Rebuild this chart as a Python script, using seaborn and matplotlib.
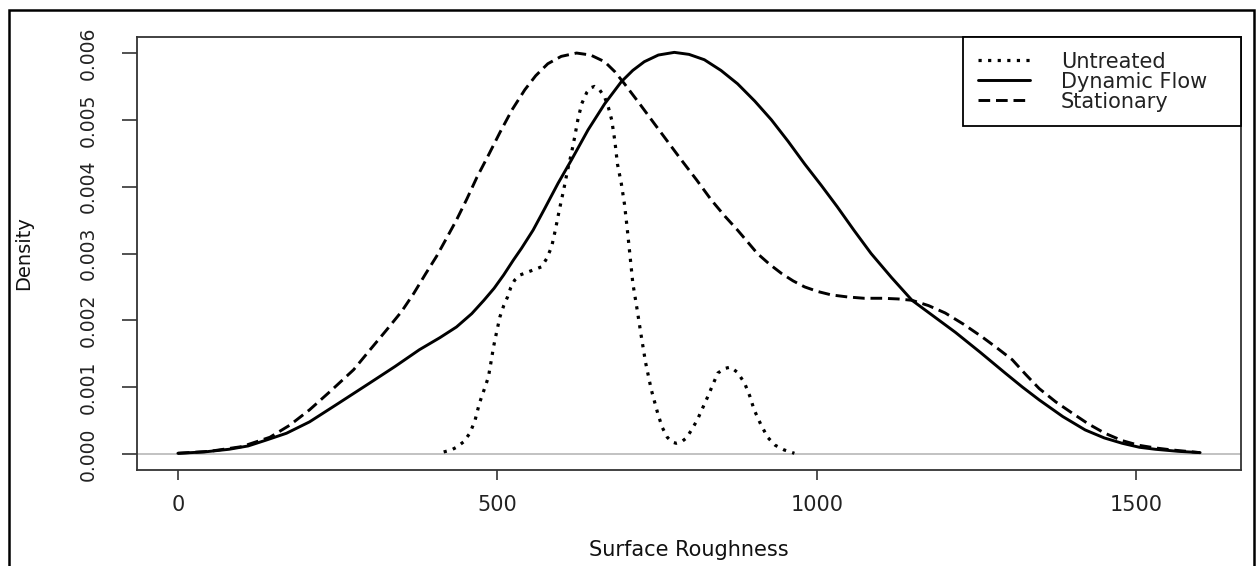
import matplotlib
matplotlib.use("Agg")
import matplotlib.pyplot as plt
import matplotlib.patches as mpatches
import seaborn as sns
import pandas as pd

# Kernel density estimates of surface roughness for the three treatments
untreated_x = [416, 428, 436, 447, 457, 465, 472, 480, 486, 490, 494, 499, 504, 510,
               516, 521, 527, 536, 547, 558, 569, 577, 585, 591, 597, 604, 610, 616,
               621, 626, 632, 640, 646, 652, 660, 668, 674, 679, 684, 688, 694, 699,
               703, 707, 712, 719, 725, 732, 741, 751, 758, 766, 773, 780, 788, 796,
               804, 813, 821, 829, 837, 845, 856, 865, 876, 887, 895, 902, 912, 923,
               935, 949, 965]
untreated_y = [0.00003, 0.00006, 0.0001, 0.00018, 0.00031, 0.0005, 0.00076, 0.00098,
               0.00115, 0.00137, 0.0016, 0.00183, 0.00205, 0.00222, 0.00235, 0.00249,
               0.0026, 0.00268, 0.00272, 0.00276, 0.0028, 0.00292, 0.0031, 0.00336,
               0.00365, 0.00396, 0.00425, 0.0045, 0.00474, 0.005, 0.00524, 0.00541,
               0.00548, 0.0055, 0.00545, 0.00534, 0.00518, 0.005, 0.00468, 0.00434,
               0.00405, 0.00374, 0.0034, 0.00303, 0.00256, 0.00215, 0.00178, 0.00137,
               0.00096, 0.00061, 0.0004, 0.00025, 0.00018, 0.00016, 0.00018, 0.00024,
               0.00036, 0.00051, 0.00068, 0.00085, 0.00103, 0.00121, 0.00128, 0.0013,
               0.00122, 0.00106, 0.00087, 0.00066, 0.00045, 0.00025, 0.00013, 0.00006,
               0.00001]

dynamic_x = [0, 41, 80, 110, 139, 170, 206, 250, 300, 340, 378, 410, 436, 460, 479,
             495, 510, 525, 538, 556, 574, 595, 616, 642, 668, 694, 712, 730, 752, 777,
             800, 824, 850, 876, 903, 929, 955, 981, 1007, 1032, 1058, 1085, 1117,
             1149, 1183, 1217, 1256, 1295, 1322, 1348, 1385, 1420, 1450, 1478, 1505,
             1530, 1565, 1600]
dynamic_y = [0.00001, 0.00003, 0.00007, 0.00012, 0.00021, 0.00031, 0.00048, 0.00075,
             0.00106, 0.00131, 0.00156, 0.00174, 0.0019, 0.0021, 0.0023, 0.00248,
             0.00268, 0.0029, 0.00308, 0.00335, 0.00367, 0.00405, 0.0044, 0.00485,
             0.00524, 0.00557, 0.00574, 0.00587, 0.00597, 0.00601, 0.00598, 0.0059,
             0.00574, 0.00554, 0.00528, 0.0050, 0.00468, 0.00434, 0.00402, 0.0037,
             0.00335, 0.0030, 0.00264, 0.0023, 0.00206, 0.00182, 0.00152, 0.00121,
             0.001, 0.00081, 0.00056, 0.00036, 0.00024, 0.00016, 0.0001, 0.00007,
             0.00004, 0.00002]

stationary_x = [0, 50, 100, 144, 175, 206, 240, 275, 300, 327, 350, 369, 388, 405, 420,
                436, 452, 468, 486, 504, 523, 543, 560, 579, 600, 624, 646, 668, 684,
                699, 722, 746, 767, 788, 812, 835, 856, 876, 892, 907, 926, 945, 963,
                981, 1002, 1023, 1048, 1074, 1103, 1127, 1149, 1175, 1201, 1230, 1259,
                1283, 1306, 1327, 1348, 1374, 1400, 1425, 1451, 1478, 1504, 1530, 1556,
                1600]
stationary_y = [0.00001, 0.00004, 0.00011, 0.00025, 0.00043, 0.00066, 0.00095, 0.00126,
                0.00155, 0.00186, 0.00213, 0.0024, 0.0027, 0.00296, 0.00322, 0.0035,
                0.00381, 0.00414, 0.00447, 0.00481, 0.00515, 0.00545, 0.00566, 0.00584,
                0.00595, 0.0060, 0.00597, 0.00587, 0.00572, 0.00554, 0.00525, 0.00494,
                0.00467, 0.0044, 0.0041, 0.0038, 0.00356, 0.00335, 0.00317, 0.0030,
                0.00284, 0.0027, 0.00259, 0.0025, 0.00243, 0.00238, 0.00235, 0.00233,
                0.00233, 0.00232, 0.0023, 0.00222, 0.00211, 0.00194, 0.00175, 0.00158,
                0.00141, 0.00119, 0.00098, 0.00078, 0.00061, 0.00045, 0.00031, 0.0002,
                0.00013, 0.00009, 0.00006, 0.00002]

series_names = ["Untreated", "Dynamic Flow", "Stationary"]
x_ticks = [0, 500, 1000, 1500]
y_ticks = [0.000, 0.001, 0.002, 0.003, 0.004, 0.005, 0.006]
y_tick_labels = ["0.000", "0.001", "0.002", "0.003", "0.004", "0.005", "0.006"]

sns.set_style("ticks")
plt.rcParams["font.family"] = ["DejaVu Sans"]
plt.rcParams["font.size"] = 15

fig = plt.figure(figsize=(12.59, 5.66), dpi=100)
ax = fig.add_axes([137 / 1259, 1 - 470 / 566, (1241 - 137) / 1259, (470 - 37) / 566])

curves = [
    (untreated_x, untreated_y, (0, (1, 2)), 2.3),
    (dynamic_x, dynamic_y, "-", 2.1),
    (stationary_x, stationary_y, (0, (4, 2)), 2.1),
]
for name, (xs, ys, ls, lw) in zip(series_names, curves):
    df = pd.DataFrame({"x": xs, "y": ys})
    sns.lineplot(data=df, x="x", y="y", ax=ax, color="black", linestyle=ls,
                 linewidth=lw, label=name, sort=False, estimator=None)

# zero reference line of the density plot
ax.axhline(0, color="#b8b8b8", lw=1.2, zorder=0)

ax.set_xlim(-64, 1664)
ax.set_ylim(-0.00024, 0.00624)
ax.set_xticks(x_ticks)
ax.set_yticks(y_ticks)
ax.set_yticklabels(y_tick_labels)
ax.tick_params(axis="y", labelrotation=90, length=11, width=1.2, pad=17,
               colors="#333333", labelcolor="#222222", labelsize=13.5)
ax.tick_params(axis="x", length=7, width=1.2, pad=11, colors="#333333",
               labelcolor="#222222", labelsize=15)
for lab in ax.get_yticklabels():
    lab.set_va("center")

ax.set_xlabel("Surface Roughness", labelpad=18, color="#111111", fontsize=15)
ax.set_ylabel("Density", labelpad=33, color="#111111", fontsize=14)

for sp in ax.spines.values():
    sp.set_visible(True)
    sp.set_color("#333333")
    sp.set_linewidth(1.3)

# legend box spanning the upper-right corner of the plot region
leg_x0 = (963 - 137) / (1241 - 137)
leg = ax.legend(loc="upper left", bbox_to_anchor=(leg_x0, 1.0, 1.0 - leg_x0, 0.0),
                mode="expand", borderaxespad=0, frameon=True, fancybox=False,
                framealpha=1, edgecolor="black", handlelength=2.5,
                handletextpad=1.5, borderpad=0.7, labelspacing=0.0, fontsize=15)
leg.get_frame().set_linewidth(1.3)
for t in leg.get_texts():
    t.set_color("#222222")

# outer frame around the whole device region
fig.add_artist(mpatches.Rectangle((9 / 1259, -0.05), (1254 - 9) / 1259,
                                  1 - 10 / 566 + 0.05, transform=fig.transFigure,
                                  fill=False, ec="black", lw=1.8))

fig.savefig("out.png", dpi=100)
